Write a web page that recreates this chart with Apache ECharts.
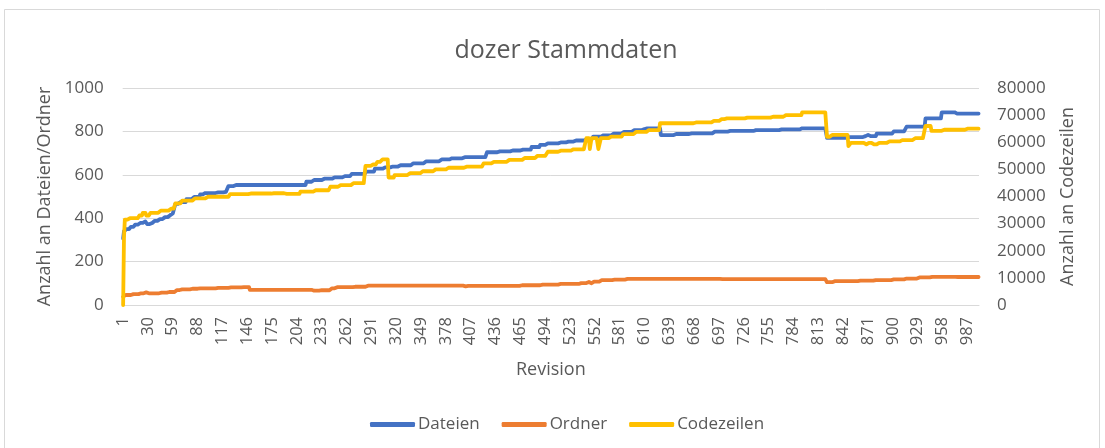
<!DOCTYPE html>
<html>
<head>
<meta charset="utf-8">
<script src="https://cdn.jsdelivr.net/npm/echarts@6/dist/echarts.min.js"></script>
<style>
  html, body { margin: 0; padding: 0; background: #ffffff; }
  #chart { width: 1105px; height: 448px; }
</style>
</head>
<body>
<div id="chart"></div>
<script>
// Number of revisions on the category axis
const revisionCount = 1000;

// Step data: [first revision, value held from that revision on]
const dateienSteps = [
  [1, 307], [2, 340], [5, 350], [10, 360], [15, 370], [20, 378], [26, 385], [29, 373],
  [34, 378], [38, 388], [44, 396], [50, 405], [55, 414], [59, 422], [62, 466], [66, 474],
  [75, 488], [84, 498], [91, 510], [97, 516], [110, 519], [120, 521], [124, 548], [132, 553],
  [215, 568], [222, 576], [235, 582], [247, 588], [258, 594], [268, 604], [285, 615],
  [295, 628], [305, 634], [315, 638], [325, 644], [340, 653], [355, 662], [371, 671],
  [385, 676], [400, 681], [426, 704], [440, 708], [455, 712], [468, 716], [478, 728],
  [488, 738], [496, 745], [510, 749], [520, 753], [530, 758], [540, 763], [550, 776],
  [562, 782], [574, 790], [586, 798], [597, 806], [608, 811], [613, 814], [629, 783],
  [645, 788], [665, 791], [690, 799], [710, 802], [740, 806], [770, 809], [792, 814],
  [823, 770], [845, 774], [868, 778], [870, 784], [873, 778], [881, 790], [901, 800],
  [916, 822], [938, 860], [957, 888], [975, 882]
];

const ordnerSteps = [
  [1, 38], [3, 46], [12, 50], [21, 54], [26, 58], [30, 54], [45, 57], [55, 60], [62, 69],
  [68, 72], [80, 75], [91, 77], [110, 79], [125, 81], [140, 82], [149, 70], [223, 66],
  [232, 68], [243, 77], [250, 82], [270, 84], [286, 89], [400, 86], [404, 88], [465, 91],
  [490, 94], [510, 97], [535, 101], [545, 106], [547, 100], [550, 108], [558, 115],
  [575, 117], [589, 120], [700, 119], [823, 105], [832, 110], [860, 112], [880, 115],
  [900, 118], [916, 122], [930, 127], [945, 130], [975, 129]
];

const codezeilenSteps = [
  [1, 0], [2, 25000], [3, 31500], [8, 32000], [20, 33000], [24, 34000], [28, 33000],
  [33, 34000], [45, 34800], [55, 35500], [62, 37500], [70, 38500], [85, 39300],
  [100, 39900], [126, 40900], [150, 41100], [175, 41200], [190, 41000], [208, 41800],
  [225, 42300], [243, 43600], [255, 44200], [270, 44900], [284, 51300], [293, 51800],
  [298, 52800], [304, 53700], [311, 47000], [318, 47900], [335, 48600], [350, 49300],
  [365, 50000], [380, 50600], [400, 51000], [422, 52200], [432, 52800], [450, 53500],
  [470, 54200], [485, 55000], [497, 56500], [510, 56900], [525, 57400], [542, 61500],
  [546, 57500], [548, 61500], [556, 57500], [559, 61500], [570, 62100], [585, 63000],
  [600, 63800], [615, 64500], [628, 67000], [650, 67000], [670, 67300], [690, 67900],
  [700, 68500], [706, 68800], [730, 69100], [760, 69400], [775, 70000], [794, 71000],
  [823, 62000], [828, 62700], [848, 58600], [851, 59800], [868, 59200], [871, 59800],
  [878, 59200], [882, 59800], [895, 60300], [910, 60800], [925, 61500], [938, 66000],
  [945, 64200], [960, 64600], [985, 65000]
];

const leftTicks = { min: 0, max: 1000, interval: 200 };
const rightTicks = { min: 0, max: 80000, interval: 10000 };

// Revision labels 1..revisionCount
const revisions = [];
for (let r = 1; r <= revisionCount; r++) revisions.push(String(r));

// Expand step list into one value per revision
function expandSteps(steps) {
  const out = [];
  let k = 0;
  for (let r = 1; r <= revisionCount; r++) {
    while (k + 1 < steps.length && steps[k + 1][0] <= r) k++;
    out.push(steps[k][1]);
  }
  return out;
}

// Plain integers, no thousands separator
const plainNumber = v => String(v);

const textColor = '#595959';
const gridColor = '#d9d9d9';
const fontFamily = '"Open Sans", "Noto Sans", sans-serif';

const chart = echarts.init(document.getElementById('chart'), null, { renderer: 'canvas' });

chart.setOption({
  animation: false,
  backgroundColor: '#ffffff',
  textStyle: { fontFamily: fontFamily, color: textColor },
  graphic: [{
    type: 'rect',
    shape: { x: 4.5, y: 9.5, width: 1095, height: 445 },
    style: { fill: 'none', stroke: gridColor, lineWidth: 1 },
    silent: true
  }],
  title: {
    text: 'dozer Stammdaten',
    left: 561,
    textAlign: 'center',
    top: 33,
    textStyle: { fontFamily: fontFamily, fontSize: 25, fontWeight: 'normal', color: textColor }
  },
  legend: {
    left: 365,
    top: 411,
    icon: 'roundRect',
    itemWidth: 45,
    itemHeight: 5,
    itemGap: 22,
    textStyle: { fontFamily: fontFamily, fontSize: 17, color: textColor, padding: [0, 0, 0, -2] },
    data: ['Dateien', 'Ordner', 'Codezeilen']
  },
  grid: { left: 122.7, right: 126, top: 88, bottom: 143 },
  xAxis: {
    type: 'category',
    data: revisions,
    boundaryGap: true,
    name: 'Revision',
    nameLocation: 'middle',
    nameGap: 56,
    nameTextStyle: { fontFamily: fontFamily, fontSize: 18, color: textColor },
    axisLine: { lineStyle: { color: gridColor, width: 1 } },
    axisTick: { show: false },
    axisLabel: {
      interval: 28,
      rotate: 90,
      margin: 12,
      fontFamily: fontFamily,
      fontSize: 16.5,
      color: textColor
    },
    splitLine: { show: false }
  },
  yAxis: [{
    type: 'value',
    min: leftTicks.min,
    max: leftTicks.max,
    interval: leftTicks.interval,
    name: 'Anzahl an Dateien/Ordner',
    nameLocation: 'middle',
    nameRotate: 90,
    nameGap: 66,
    nameTextStyle: { fontFamily: fontFamily, fontSize: 18, color: textColor },
    axisLine: { show: false },
    axisTick: { show: false },
    axisLabel: { margin: 19, fontFamily: fontFamily, fontSize: 17, color: textColor, formatter: plainNumber },
    splitLine: { lineStyle: { color: gridColor, width: 1 } }
  }, {
    type: 'value',
    position: 'right',
    min: rightTicks.min,
    max: rightTicks.max,
    interval: rightTicks.interval,
    name: 'Anzahl an Codezeilen',
    nameLocation: 'middle',
    nameRotate: 90,
    nameGap: 80,
    nameTextStyle: { fontFamily: fontFamily, fontSize: 18, color: textColor },
    axisLine: { show: false },
    axisTick: { show: false },
    axisLabel: { margin: 18, fontFamily: fontFamily, fontSize: 17, color: textColor, formatter: plainNumber },
    splitLine: { show: false }
  }],
  series: [{
    name: 'Dateien',
    type: 'line',
    yAxisIndex: 0,
    data: expandSteps(dateienSteps),
    showSymbol: false,
    color: '#4472C4',
    lineStyle: { width: 3.8, color: '#4472C4', cap: 'round', join: 'round' }
  }, {
    name: 'Ordner',
    type: 'line',
    yAxisIndex: 0,
    data: expandSteps(ordnerSteps),
    showSymbol: false,
    color: '#ED7D31',
    lineStyle: { width: 3.8, color: '#ED7D31', cap: 'round', join: 'round' }
  }, {
    name: 'Codezeilen',
    type: 'line',
    yAxisIndex: 1,
    data: expandSteps(codezeilenSteps),
    showSymbol: false,
    color: '#FFC000',
    lineStyle: { width: 3.8, color: '#FFC000', cap: 'round', join: 'round' }
  }]
});
</script>
</body>
</html>
